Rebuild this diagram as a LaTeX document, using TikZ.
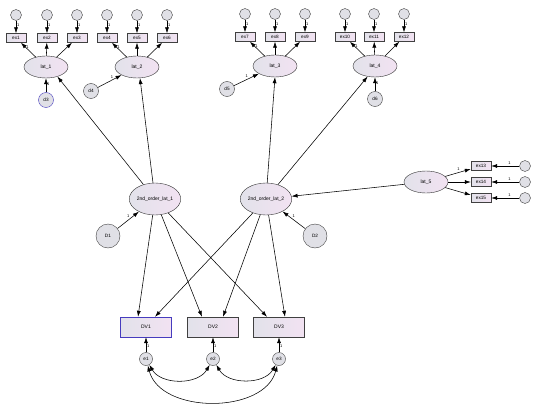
\documentclass[tikz,border=0pt]{standalone}
\usepackage{fontspec}
\setmainfont{Liberation Sans}
\usetikzlibrary{arrows.meta,shapes.geometric}

\definecolor{fillL}{RGB}{226,226,234}
\definecolor{fillR}{RGB}{242,226,242}
\definecolor{errfill}{RGB}{224,224,230}
\definecolor{amosblue}{RGB}{70,60,190}

\begin{document}
\begin{tikzpicture}[
  x=1pt, y=-1pt,
  lat/.style={ellipse, draw=black!80, minimum width=44, minimum height=22, inner sep=0, left color=fillL, right color=fillR, font=\fontsize{5}{6}\selectfont},
  solat/.style={lat, minimum width=44, minimum height=32},
  obs/.style={rectangle, draw=black!75, minimum width=20, minimum height=9, inner sep=0, left color=fillL, right color=fillR, font=\fontsize{4.7}{5}\selectfont},
  dv/.style={obs, minimum width=51, minimum height=20, font=\fontsize{5}{6}\selectfont},
  err/.style={circle, draw=black!75, fill=errfill, minimum size=11, inner sep=0, font=\fontsize{4.7}{5}\selectfont},
  dist/.style={err, minimum size=15},
  arr/.style={-{Latex[length=6pt,width=4pt]}, line width=0.55pt},
  cov/.style={{Latex[length=6pt,width=4pt]}-{Latex[length=6pt,width=4pt]}, line width=0.55pt},
  one/.style={font=\fontsize{4}{4}\selectfont, inner sep=0.8},
]
\useasboundingbox (0,0) rectangle (540,409);

% first-order factor lat_1
\node[err] (r1) at (16,15) {};
\node[err] (r2) at (47,15) {};
\node[err] (r3) at (77,15) {};
\node[obs] (ex1) at (16,38) {ex1};
\node[obs] (ex2) at (47,38) {ex2};
\node[obs] (ex3) at (77,38) {ex3};
\node[lat] (lat1) at (46,67) {lat\_1};
\node[dist, draw=amosblue] (d3) at (46,100) {d3};

% first-order factor lat_2
\node[err] (r4) at (107,15) {};
\node[err] (r5) at (137,15) {};
\node[err] (r6) at (167,15) {};
\node[obs] (ex4) at (107,38) {ex4};
\node[obs] (ex5) at (137,38) {ex5};
\node[obs] (ex6) at (167,38) {ex6};
\node[lat] (lat2) at (137,67) {lat\_2};
\node[dist] (d4) at (91,91) {d4};

% first-order factor lat_3
\node[err] (r7) at (245,14) {};
\node[err] (r8) at (275,14) {};
\node[err] (r9) at (305,14) {};
\node[obs] (ex7) at (245,37) {ex7};
\node[obs] (ex8) at (275,37) {ex8};
\node[obs] (ex9) at (305,37) {ex9};
\node[lat] (lat3) at (275,66) {lat\_3};
\node[dist] (d5) at (227,89) {d5};

% first-order factor lat_4
\node[err] (r10) at (345,14) {};
\node[err] (r11) at (374,14) {};
\node[err] (r12) at (404,14) {};
\node[obs] (ex10) at (345,37) {ex10};
\node[obs] (ex11) at (374,37) {ex11};
\node[obs] (ex12) at (404,37) {ex12};
\node[lat] (lat4) at (375,66) {lat\_4};
\node[dist] (d6) at (375,99) {d6};

% exogenous factor lat_5
\node[lat] (lat5) at (426,182) {lat\_5};
\node[obs] (ex13) at (481,166) {ex13};
\node[obs] (ex14) at (481,182) {ex14};
\node[obs] (ex15) at (481,198) {ex15};
\node[err] (r13) at (525,166) {};
\node[err] (r14) at (525,182) {};
\node[err] (r15) at (525,198) {};

% second-order factors
\node[solat] (so1) at (155,199) {2nd\_order\_lat\_1};
\node[solat] (so2) at (266,199) {2nd\_order\_lat\_2};
\node[dist, minimum size=24] (D1) at (108,236) {D1};
\node[dist, minimum size=24] (D2) at (315,236) {D2};

% outcomes
\node[dv, draw=amosblue] (dv1) at (146,327) {DV1};
\node[dv] (dv2) at (213,327) {DV2};
\node[dv] (dv3) at (279,327) {DV3};
\node[err, minimum size=13] (e1) at (146,359) {e1};
\node[err, minimum size=13] (e2) at (213,359) {e2};
\node[err, minimum size=13] (e3) at (279,359) {e3};

% measurement errors
\draw[arr] (r1) -- node[one, right, pos=0.35] {1} (ex1);
\draw[arr] (r2) -- node[one, right, pos=0.35] {1} (ex2);
\draw[arr] (r3) -- node[one, right, pos=0.35] {1} (ex3);
\draw[arr] (r4) -- node[one, right, pos=0.35] {1} (ex4);
\draw[arr] (r5) -- node[one, right, pos=0.35] {1} (ex5);
\draw[arr] (r6) -- node[one, right, pos=0.35] {1} (ex6);
\draw[arr] (r7) -- node[one, right, pos=0.35] {1} (ex7);
\draw[arr] (r8) -- node[one, right, pos=0.35] {1} (ex8);
\draw[arr] (r9) -- node[one, right, pos=0.35] {1} (ex9);
\draw[arr] (r10) -- node[one, right, pos=0.35] {1} (ex10);
\draw[arr] (r11) -- node[one, right, pos=0.35] {1} (ex11);
\draw[arr] (r12) -- node[one, right, pos=0.35] {1} (ex12);
\draw[arr] (r13) -- node[one, above, pos=0.35] {1} (ex13);
\draw[arr] (r14) -- node[one, above, pos=0.35] {1} (ex14);
\draw[arr] (r15) -- node[one, above, pos=0.35] {1} (ex15);

% loadings
\draw[arr] (lat1) -- node[one, right, pos=0.7] {1} (ex1);
\draw[arr] (lat1) -- (ex2);
\draw[arr] (lat1) -- (ex3);
\draw[arr] (lat2) -- node[one, right, pos=0.7] {1} (ex4);
\draw[arr] (lat2) -- (ex5);
\draw[arr] (lat2) -- (ex6);
\draw[arr] (lat3) -- node[one, right, pos=0.7] {1} (ex7);
\draw[arr] (lat3) -- (ex8);
\draw[arr] (lat3) -- (ex9);
\draw[arr] (lat4) -- node[one, right, pos=0.7] {1} (ex10);
\draw[arr] (lat4) -- (ex11);
\draw[arr] (lat4) -- (ex12);
\draw[arr] (lat5) -- node[one, above left, pos=0.6] {1} (ex13);
\draw[arr] (lat5) -- (ex14);
\draw[arr] (lat5) -- (ex15);

% disturbances
\draw[arr] (d3) -- node[one, right, pos=0.6] {1} (lat1);
\draw[arr] (d4) -- node[one, above, pos=0.6] {1} (lat2);
\draw[arr] (d5) -- node[one, above left, pos=0.6] {1} (lat3);
\draw[arr] (d6) -- node[one, right, pos=0.6] {1} (lat4);
\draw[arr] (D1) -- node[one, above left, pos=0.6] {1} (so1);
\draw[arr] (D2) -- node[one, above right, pos=0.6] {1} (so2);

% second-order structure
\draw[arr] (so1) -- (lat1.-40);
\draw[arr] (so1) -- (lat2.-75);
\draw[arr] (so2) -- (lat3.south);
\draw[arr] (so2) -- (lat4.-125);
\draw[arr] (lat5) -- (so2);

% paths to outcomes
\draw[arr] (so1) -- ([xshift=-8pt]dv1.north);
\draw[arr] (so1) -- ([xshift=-11pt]dv2.north);
\draw[arr] (so1) -- ([xshift=-12pt]dv3.north);
\draw[arr] (so2) -- ([xshift=9pt]dv1.north);
\draw[arr] (so2) -- ([xshift=10pt]dv2.north);
\draw[arr] (so2) -- ([xshift=6pt]dv3.north);

% residuals and covariances
\draw[arr] (e1) -- node[one, right, pos=0.4] {1} (dv1);
\draw[arr] (e2) -- node[one, right, pos=0.4] {1} (dv2);
\draw[arr] (e3) -- node[one, right, pos=0.4] {1} (dv3);
\draw[cov] (e1) to[out=-60, in=-120] (e2);
\draw[cov] (e2) to[out=-60, in=-120] (e3);
\draw[cov] (e1) to[out=-75, in=-105] (e3);

\end{tikzpicture}
\end{document}
